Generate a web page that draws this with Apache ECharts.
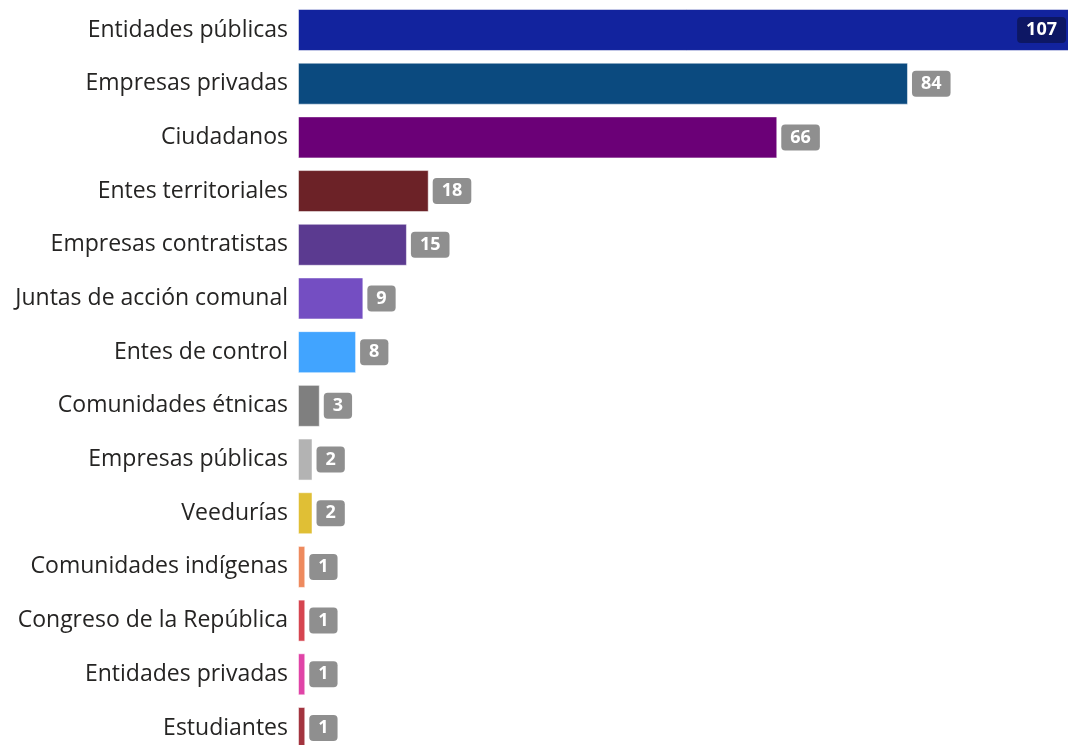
<!DOCTYPE html>
<html><head><meta charset="utf-8">
<script src="https://cdn.jsdelivr.net/npm/echarts@6/dist/echarts.min.js"></script>
<style>html,body{margin:0;padding:0;background:#fff;overflow:hidden;width:1068px;height:745px}#c{width:1075px;height:755px}</style>
</head><body><div id="c"></div>
<script>
const categories = ["Entidades públicas","Empresas privadas","Ciudadanos","Entes territoriales","Empresas contratistas","Juntas de acción comunal","Entes de control","Comunidades étnicas","Empresas públicas","Veedurías","Comunidades indígenas","Congreso de la República","Entidades privadas","Estudiantes"];
const values = [107,84,66,18,15,9,8,3,2,2,1,1,1,1];
const colors = ["#12239E","#0B4A7F","#6B0077","#6C2227","#5B3A90","#744EC2","#41A4FF","#7F7F7F","#B3B3B3","#E0BF35","#EE8A5E","#D64550","#E044A7","#A3343F"];

const chart = echarts.init(document.getElementById('c'));
const baseLabel = {
  show: true, position: 'right', distance: 4,
  color: '#fff', fontWeight: 'bold', fontSize: 18, fontFamily: 'Open Sans',
  backgroundColor: '#8F8F8F', borderRadius: 4, padding: [3, 9, 3, 9], lineHeight: 20
};
chart.setOption({
  animation: false,
  grid: { left: 298, top: 3.15, right: 0, bottom: 0.15 },
  xAxis: { type: 'value', min: 0, max: 107, show: false },
  yAxis: {
    type: 'category', data: categories, inverse: true,
    axisLine: { show: false }, axisTick: { show: false },
    axisLabel: { fontSize: 23, color: '#252423', fontFamily: 'Open Sans', margin: 10 }
  },
  series: [{
    type: 'bar', barWidth: 42,
    data: values.map((v, i) => {
      const d = { value: v, itemStyle: { color: colors[i] } };
      if (i === 0) d.label = Object.assign({}, baseLabel, { position: 'insideRight', distance: 9, backgroundColor: '#0D1764' });
      return d;
    }),
    itemStyle: { borderColor: 'rgba(255,255,255,0.5)', borderWidth: 1 },
    label: baseLabel
  }]
});
</script></body></html>
